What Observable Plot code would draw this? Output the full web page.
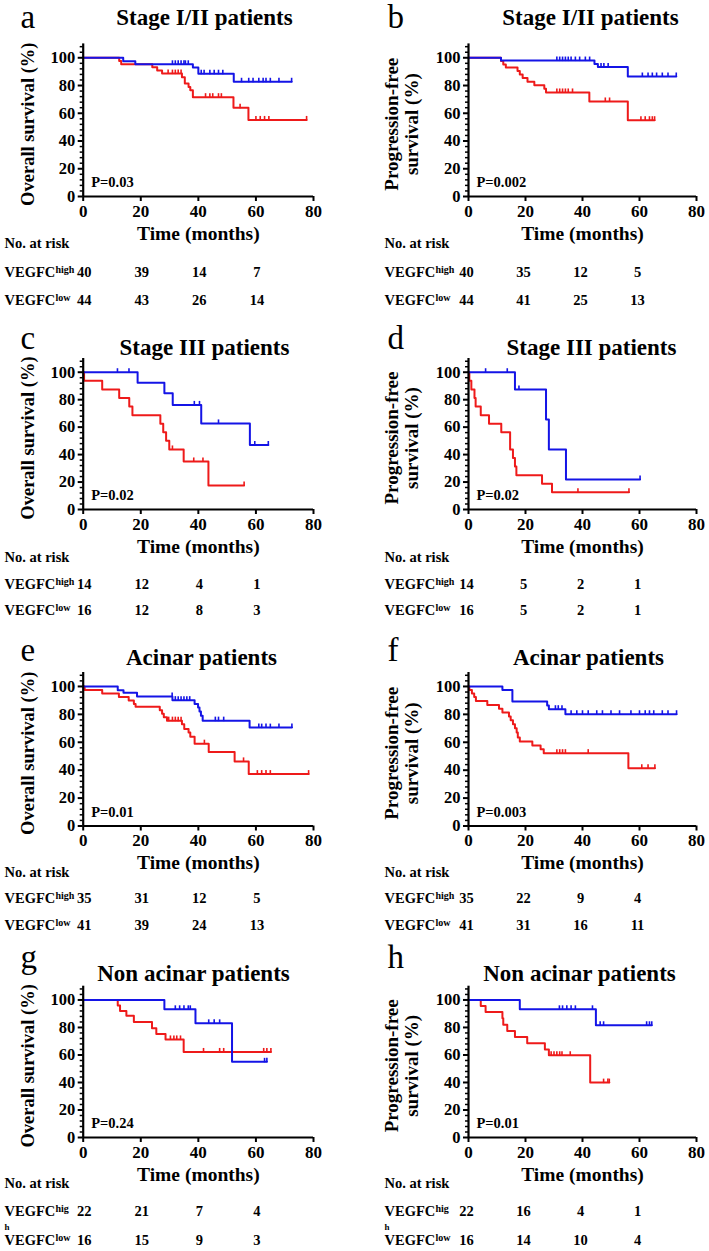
<!DOCTYPE html>
<html><head><meta charset="utf-8">
<script src="https://cdn.jsdelivr.net/npm/d3@7"></script>
<script src="https://cdn.jsdelivr.net/npm/@observablehq/plot@0.6"></script>
<style>
html,body{margin:0;padding:0;background:#fff;}
#fig{position:relative;width:709px;height:1251px;overflow:hidden;background:#fff;}
.panel{position:absolute;}
.panel svg{display:block;overflow:visible;max-width:none;}
</style></head><body><div id="fig"></div>
<script>
// ---------- labels ----------
const panelLetters = ["a","b","c","d","e","f","g","h"];
const panelTitles = ["Stage I/II patients","Stage I/II patients","Stage III patients","Stage III patients","Acinar patients","Acinar patients","Non acinar patients","Non acinar patients"];
const pValues = ["P=0.03","P=0.002","P=0.02","P=0.02","P=0.01","P=0.003","P=0.24","P=0.01"];
const yLabelOS = "Overall survival (%)";
const yLabelPFS = "Progression-free\nsurvival (%)";
const xLabel = "Time (months)";
const riskTitle = "No. at risk";
const groupName = "VEGFC";
const xTicks = [0,20,40,60,80];
const yTicks = [0,20,40,60,80,100];
const riskTimes = [0,20,40,60];

// ---------- survival steps [time, %] and censor times ----------
// a: OS stage I/II
const aHigh = [[0,100],[13.9,97.5],[18.1,95.3],[38.1,93],[40,88.5],[52.3,82.7],[72.4,82.7]];
const aHighCens = [31,32,33,34,35,35.5,36.5,41,42,44,45.5,47,48.5,55,57.5,59,61,62.5,63.5,65,68,72.4];
const aLow = [[0,100],[12.5,97.7],[13.2,95.4],[24,93.1],[25.7,90.9],[27.4,88.6],[34.3,86],[35.3,81.5],[36.6,79],[37.2,76.5],[38.1,71.6],[52.2,64],[57.4,55.2],[77.6,55.2]];
const aLowCens = [29.5,31,32,33,34,42.5,44,45,47,48,54.5,60,61.5,63,64.5,77.6];
// b: PFS stage I/II
const bHigh = [[0,100],[11.4,98],[44.2,95.6],[45.4,93.3],[55.9,86.5],[72.9,86.5]];
const bHighCens = [31,32,33,34,35,36,37.5,39,41,42.5,46.5,47.5,49,61,63,64.5,66,68,70,72.9];
const bLow = [[0,100],[11.4,97.6],[12.2,95.2],[13.1,92.9],[17.2,90.4],[18,87.9],[19,85.4],[20.7,82.8],[23.1,80.2],[26.6,77.6],[27.2,75],[42.4,68.5],[55.9,55],[65.3,55]];
const bLowCens = [31,32,33,34,35,36.5,48,49.5,60.5,62,63.5,64.5,65.3];
// c: OS stage III
const cHigh = [[0,100],[18.9,92.3],[28.2,84.6],[31.1,76.2],[41,62.7],[57.9,47],[64.3,47]];
const cHighCens = [11.9,15.9,38.6,40.4,47,59.6,64.3];
const cLow = [[0,100],[0.3,93.75],[6.6,87.5],[12.5,81.25],[16,75],[17.1,68.75],[26.8,62.5],[27.8,56.25],[28.8,50],[29.9,43.75],[34.9,35],[43.5,17.5],[55.9,17.5]];
const cLowCens = [31,38.4,41.6,55.9];
// d: PFS stage III
const dHigh = [[0,100],[16.3,87.5],[27.2,65.6],[28.2,43.75],[34.2,21.9],[60.2,21.9]];
const dHighCens = [6,13.6,17.7,60.2];
const dLow = [[0,100],[0.3,93.75],[1,87.5],[2.1,81.25],[2.5,75],[4.3,68.75],[7.2,62.5],[11.5,56.25],[14.6,43.75],[15.6,37.5],[16.3,31.25],[16.8,25],[25.8,18.75],[29.3,12.5],[56.3,12.5]];
const dLowCens = [38.4,56.3];
// e: OS acinar
const eHigh = [[0,100],[12,97.2],[14,95.5],[18.7,92.8],[31,90.2],[38.7,87.5],[39.9,85],[40.4,82],[40.9,79],[41.5,75.5],[57.8,70.5],[72.5,70.5]];
const eHighCens = [30.9,32,33,34,35,36,37,45.9,47,48.8,61,62,63.5,65,68,72.5];
const eLow = [[0,100],[0.5,97.5],[6.6,95],[12.4,92.5],[15.8,90],[17.6,87.5],[18.2,85.5],[26.6,83],[27.4,80.5],[28,78],[29.1,75.5],[34.3,73],[35.1,69.5],[36.6,67],[37.2,64],[38.7,59],[43.6,53],[52.6,46.3],[57.5,37.2],[78.3,37.2]];
const eLowCens = [29.7,31,32,33,34,42.1,55.7,60.5,62,63.5,65,78.3];
// f: PFS acinar
const fHigh = [[0,100],[11.9,97.4],[15.4,89.2],[27.6,86.4],[28.2,83.7],[34,80.1],[73,80.1]];
const fHighCens = [30.5,31.5,32.8,36,38,40,42,45,47,50,53,57,60,62,63.5,65,68,70,73];
const fLow = [[0,100],[0.3,97.5],[1.2,95],[2,92.5],[2.6,89.5],[6.6,86.8],[10.7,84],[11.9,81.3],[14.2,78.5],[14.8,75.8],[15.6,73],[16.3,70],[16.9,67],[17.3,63.5],[18,60.5],[22.4,57.6],[25.3,55],[26.4,52.2],[56.1,41.4],[65.4,41.4]];
const fLowCens = [31,32,33,34,42,60.8,63,65.4];
// g: OS non acinar
const gHigh = [[0,100],[28.2,93.2],[39,83],[51.7,55],[63.8,55]];
const gHighCens = [32,33.5,35,36.5,37.2,43.6,45.5,47.4,63,63.8];
const gLow = [[0,100],[12,96],[12.8,92],[15,88.5],[17.6,84],[23.9,79.5],[25.4,75.3],[28.6,71.3],[34.9,62.2],[65.2,62.2]];
const gLowCens = [30.3,31.5,32.5,33.8,41.8,47.4,48.8,62.7,63.8,65.2];
// h: PFS non acinar
const hHigh = [[0,100],[18,93.2],[44.7,81.6],[64.3,81.6]];
const hHighCens = [31.9,33,34.5,36,37.5,43.5,46.2,47.4,62.5,63.5,64.3];
const hLow = [[0,100],[4.3,95.6],[6,91.3],[11.9,86.7],[12.2,82],[13.6,77.5],[16.3,73],[20.6,68.5],[26.8,64],[28.2,59.8],[42.7,39.9],[49.4,39.9]];
const hLowCens = [29,30,31,32,32.8,35.7,47.4,48.9,49.4];

// ---------- numbers at risk (at 0, 20, 40, 60 months) ----------
const aRiskHigh = [40,39,14,7],  aRiskLow = [44,43,26,14];
const bRiskHigh = [40,35,12,5],  bRiskLow = [44,41,25,13];
const cRiskHigh = [14,12,4,1],   cRiskLow = [16,12,8,3];
const dRiskHigh = [14,5,2,1],    dRiskLow = [16,5,2,1];
const eRiskHigh = [35,31,12,5],  eRiskLow = [41,39,24,13];
const fRiskHigh = [35,22,9,4],   fRiskLow = [41,31,16,11];
const gRiskHigh = [22,21,7,4],   gRiskLow = [16,15,9,3];
const hRiskHigh = [22,16,4,1],   hRiskLow = [16,14,10,4];

// ---------- layout (page pixels) ----------
const layoutRows = [
  {top:0,   bottom:305,  yTop:43.4,  y0:196,   titleY:17,  letterY:27,  riskY:[243,272,300]},
  {top:305, bottom:610,  yTop:358,   y0:509,   titleY:347, letterY:348, riskY:[557,584,610]},
  {top:610, bottom:925,  yTop:672,   y0:825.5, titleY:657, letterY:660, riskY:[872,898,925]},
  {top:925, bottom:1251, yTop:985.7, y0:1137,  titleY:973, letterY:967, riskY:[1183,1211,1240], wrapY:1227}
];
const layoutCols = [
  {left:0,   width:355, x0:82.7, x80:313, letterX:20,  labelX:4,   ylabX:27,  numDx:1},
  {left:354, width:355, x0:468,  x80:696, letterX:387, labelX:384, ylabX:401, numDx:-2}
];
const titleXs = [204,590,204,591,201,588,193,579];

const colHigh = "#1414e6";
const colLow = "#ee1a1a";
const fontFamily = "Liberation Serif, Times New Roman, Times, serif";

const curves = [
  [aHigh,aHighCens,aLow,aLowCens,aRiskHigh,aRiskLow],
  [bHigh,bHighCens,bLow,bLowCens,bRiskHigh,bRiskLow],
  [cHigh,cHighCens,cLow,cLowCens,cRiskHigh,cRiskLow],
  [dHigh,dHighCens,dLow,dLowCens,dRiskHigh,dRiskLow],
  [eHigh,eHighCens,eLow,eLowCens,eRiskHigh,eRiskLow],
  [fHigh,fHighCens,fLow,fLowCens,fRiskHigh,fRiskLow],
  [gHigh,gHighCens,gLow,gLowCens,gRiskHigh,gRiskLow],
  [hHigh,hHighCens,hLow,hLowCens,hRiskHigh,hRiskLow]
];

function survivalAt(steps, t) {
  let s = steps[0][1];
  for (const [ti, si] of steps) if (ti <= t) s = si;
  return s;
}
const censorTick = {
  draw(ctx, size) {
    const h = Math.sqrt(size / Math.PI) * 2;
    ctx.moveTo(0, 0.5);
    ctx.lineTo(0, -h);
  }
};
const yMinor = d3.range(4, 110, 4).filter(v => v % 20 !== 0);

const fig = document.getElementById("fig");

panelLetters.forEach((letter, i) => {
  const R = layoutRows[Math.floor(i / 2)];
  const C = layoutCols[i % 2];
  const [high, highC, low, lowC, riskH, riskL] = curves[i];
  const isOS = i % 2 === 0;
  const wrapped = R.wrapY !== undefined;
  const width = C.width, height = R.bottom - R.top;
  const dyT = v => v - R.yTop;
  const dyB = v => v - R.y0;
  const cens = (steps, times) => times.map(t => ({t, s: survivalAt(steps, t)}));
  const risk = ns => riskTimes.map((t, k) => ({t, n: String(ns[k])}));
  const txt = {fontFamily, fontWeight: "bold", fill: "black"};
  const supDx = C.labelX - C.x0 + 51;

  const marks = [
    // curves
    Plot.line(low, {x: d => d[0], y: d => d[1], curve: "step-after", stroke: colLow, strokeWidth: 2}),
    Plot.line(high, {x: d => d[0], y: d => d[1], curve: "step-after", stroke: colHigh, strokeWidth: 2}),
    Plot.dot(cens(low, lowC), {x: "t", y: "s", symbol: censorTick, r: 2, stroke: colLow, fill: "none", strokeWidth: 1.6}),
    Plot.dot(cens(high, highC), {x: "t", y: "s", symbol: censorTick, r: 2, stroke: colHigh, fill: "none", strokeWidth: 1.6}),
    // axes
    Plot.axisY({ticks: yMinor, tickSize: 3, tickFormat: () => "", label: null, strokeWidth: 1.5}),
    Plot.axisY({ticks: yTicks, tickSize: 5, tickPadding: 3, label: null, strokeWidth: 2, fontSize: 16.5, ...txt}),
    Plot.axisX({ticks: xTicks, tickSize: 5, tickPadding: 3, label: null, strokeWidth: 2, fontSize: 17, ...txt}),
    Plot.ruleX([0], {y1: 0, y2: 110, strokeWidth: 2.2, stroke: "black"}),
    Plot.ruleY([0], {x1: 0, x2: 80, strokeWidth: 2.2, stroke: "black"}),
    // axis labels
    Plot.text([xLabel], {frameAnchor: "bottom", dy: 37, fontSize: 19.5, lineAnchor: "middle", ...txt}),
    Plot.text([isOS ? yLabelOS : yLabelPFS], {frameAnchor: "left", rotate: -90, dx: C.ylabX - C.x0, dy: 4,
      fontSize: isOS ? 18.5 : 19, lineHeight: 1.07, lineAnchor: "middle", textAnchor: "middle", ...txt}),
    // title, letter, p value
    Plot.text([panelTitles[i]], {frameAnchor: "top-left", dx: titleXs[i] - C.x0, dy: dyT(R.titleY),
      fontSize: 23, lineAnchor: "middle", textAnchor: "middle", ...txt}),
    Plot.text([letter], {frameAnchor: "top-left", dx: C.letterX - C.x0, dy: dyT(R.letterY),
      fontSize: 33, lineAnchor: "bottom", textAnchor: "start", fontFamily, fontWeight: "normal", fill: "black"}),
    Plot.text([pValues[i]], {frameAnchor: "bottom-left", dx: 8, dy: -14, fontSize: 14.5,
      lineAnchor: "middle", textAnchor: "start", ...txt}),
    // risk table
    Plot.text([riskTitle], {frameAnchor: "bottom-left", dx: C.labelX - C.x0, dy: dyB(R.riskY[0]),
      fontSize: 14.5, lineAnchor: "middle", textAnchor: "start", ...txt}),
    Plot.text([groupName], {frameAnchor: "bottom-left", dx: C.labelX - C.x0, dy: dyB(R.riskY[1]),
      fontSize: 14.5, lineAnchor: "middle", textAnchor: "start", ...txt}),
    Plot.text([wrapped ? "hig" : "high"], {frameAnchor: "bottom-left", dx: supDx, dy: dyB(R.riskY[1]) - 3,
      fontSize: 10, lineAnchor: "middle", textAnchor: "start", ...txt}),
    Plot.text([groupName], {frameAnchor: "bottom-left", dx: C.labelX - C.x0, dy: dyB(R.riskY[2]),
      fontSize: 14.5, lineAnchor: "middle", textAnchor: "start", ...txt}),
    Plot.text(["low"], {frameAnchor: "bottom-left", dx: supDx, dy: dyB(R.riskY[2]) - 3,
      fontSize: 10, lineAnchor: "middle", textAnchor: "start", ...txt}),
    Plot.text(risk(riskH), {x: "t", text: "n", frameAnchor: "bottom", dx: C.numDx, dy: dyB(R.riskY[1]),
      fontSize: 14.5, lineAnchor: "middle", textAnchor: "middle", ...txt}),
    Plot.text(risk(riskL), {x: "t", text: "n", frameAnchor: "bottom", dx: C.numDx, dy: dyB(R.riskY[2]),
      fontSize: 14.5, lineAnchor: "middle", textAnchor: "middle", ...txt})
  ];
  if (wrapped) {
    marks.push(Plot.text(["h"], {frameAnchor: "bottom-left", dx: C.labelX - C.x0, dy: dyB(R.wrapY),
      fontSize: 9, lineAnchor: "middle", textAnchor: "start", ...txt}));
  }

  const svg = Plot.plot({
    width, height,
    marginLeft: C.x0 - C.left,
    marginRight: C.left + C.width - C.x80,
    marginTop: R.yTop - R.top,
    marginBottom: R.bottom - R.y0,
    x: {domain: [0, 80]},
    y: {domain: [0, 110]},
    style: {fontFamily, fontWeight: "bold", fontSize: "16px", color: "black", background: "transparent", overflow: "visible"},
    marks
  });
  const div = document.createElement("div");
  div.className = "panel";
  div.style.left = C.left + "px";
  div.style.top = R.top + "px";
  div.style.width = width + "px";
  div.style.height = height + "px";
  div.appendChild(svg);
  fig.appendChild(div);
});
</script></body></html>
